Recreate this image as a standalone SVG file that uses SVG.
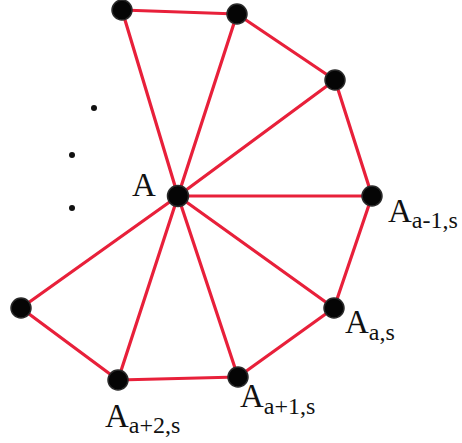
<svg xmlns="http://www.w3.org/2000/svg" width="462" height="443" viewBox="0 0 462 443">
<style>
.e{stroke:#e8203a;stroke-width:3.2;fill:none;stroke-linecap:round}
.n{fill:#050505;stroke:#2a2a2a;stroke-width:1.5}
.d{fill:#111}
.t{font-family:"Liberation Serif",serif;font-size:33px;fill:#111}
.s{font-size:24px}
</style>
<rect width="462" height="443" fill="#fff"/>
<g id="connectors">
<line class="e" x1="178" y1="196" x2="122" y2="10"/>
<line class="e" x1="178" y1="196" x2="237" y2="14"/>
<line class="e" x1="178" y1="196" x2="335" y2="80"/>
<line class="e" x1="178" y1="196" x2="372" y2="196"/>
<line class="e" x1="178" y1="196" x2="334" y2="308"/>
<line class="e" x1="178" y1="196" x2="238" y2="377"/>
<line class="e" x1="178" y1="196" x2="118" y2="380"/>
<line class="e" x1="178" y1="196" x2="21" y2="308"/>
<line class="e" x1="122" y1="10" x2="237" y2="14"/>
<line class="e" x1="237" y1="14" x2="335" y2="80"/>
<line class="e" x1="335" y1="80" x2="372" y2="196"/>
<line class="e" x1="372" y1="196" x2="334" y2="308"/>
<line class="e" x1="334" y1="308" x2="238" y2="377"/>
<line class="e" x1="238" y1="377" x2="118" y2="380"/>
<line class="e" x1="118" y1="380" x2="21" y2="308"/>
</g>
<g id="dots">
<circle class="d" cx="94" cy="108" r="3"/>
<circle class="d" cx="72" cy="155" r="3"/>
<circle class="d" cx="72" cy="208" r="3"/>
</g>
<g id="nA"><circle class="n" cx="178" cy="196" r="10.5"/><text class="t" x="132" y="196">A</text></g>
<g id="n1"><circle class="n" cx="122" cy="10" r="10"/></g>
<g id="n2"><circle class="n" cx="237" cy="14" r="10"/></g>
<g id="n3"><circle class="n" cx="335" cy="80" r="10"/></g>
<g id="n4"><circle class="n" cx="372" cy="196" r="10"/><text class="t" x="388" y="222">A<tspan class="s" dy="6">a-1,s</tspan></text></g>
<g id="n5"><circle class="n" cx="334" cy="308" r="10"/><text class="t" x="345" y="333">A<tspan class="s" dy="7">a,s</tspan></text></g>
<g id="n6"><circle class="n" cx="238" cy="377" r="10"/><text class="t" x="240" y="407">A<tspan class="s" dy="7">a+1,s</tspan></text></g>
<g id="n7"><circle class="n" cx="118" cy="380" r="10"/><text class="t" x="105" y="427">A<tspan class="s" dy="6">a+2,s</tspan></text></g>
<g id="n8"><circle class="n" cx="21" cy="308" r="10"/></g>
</svg>
